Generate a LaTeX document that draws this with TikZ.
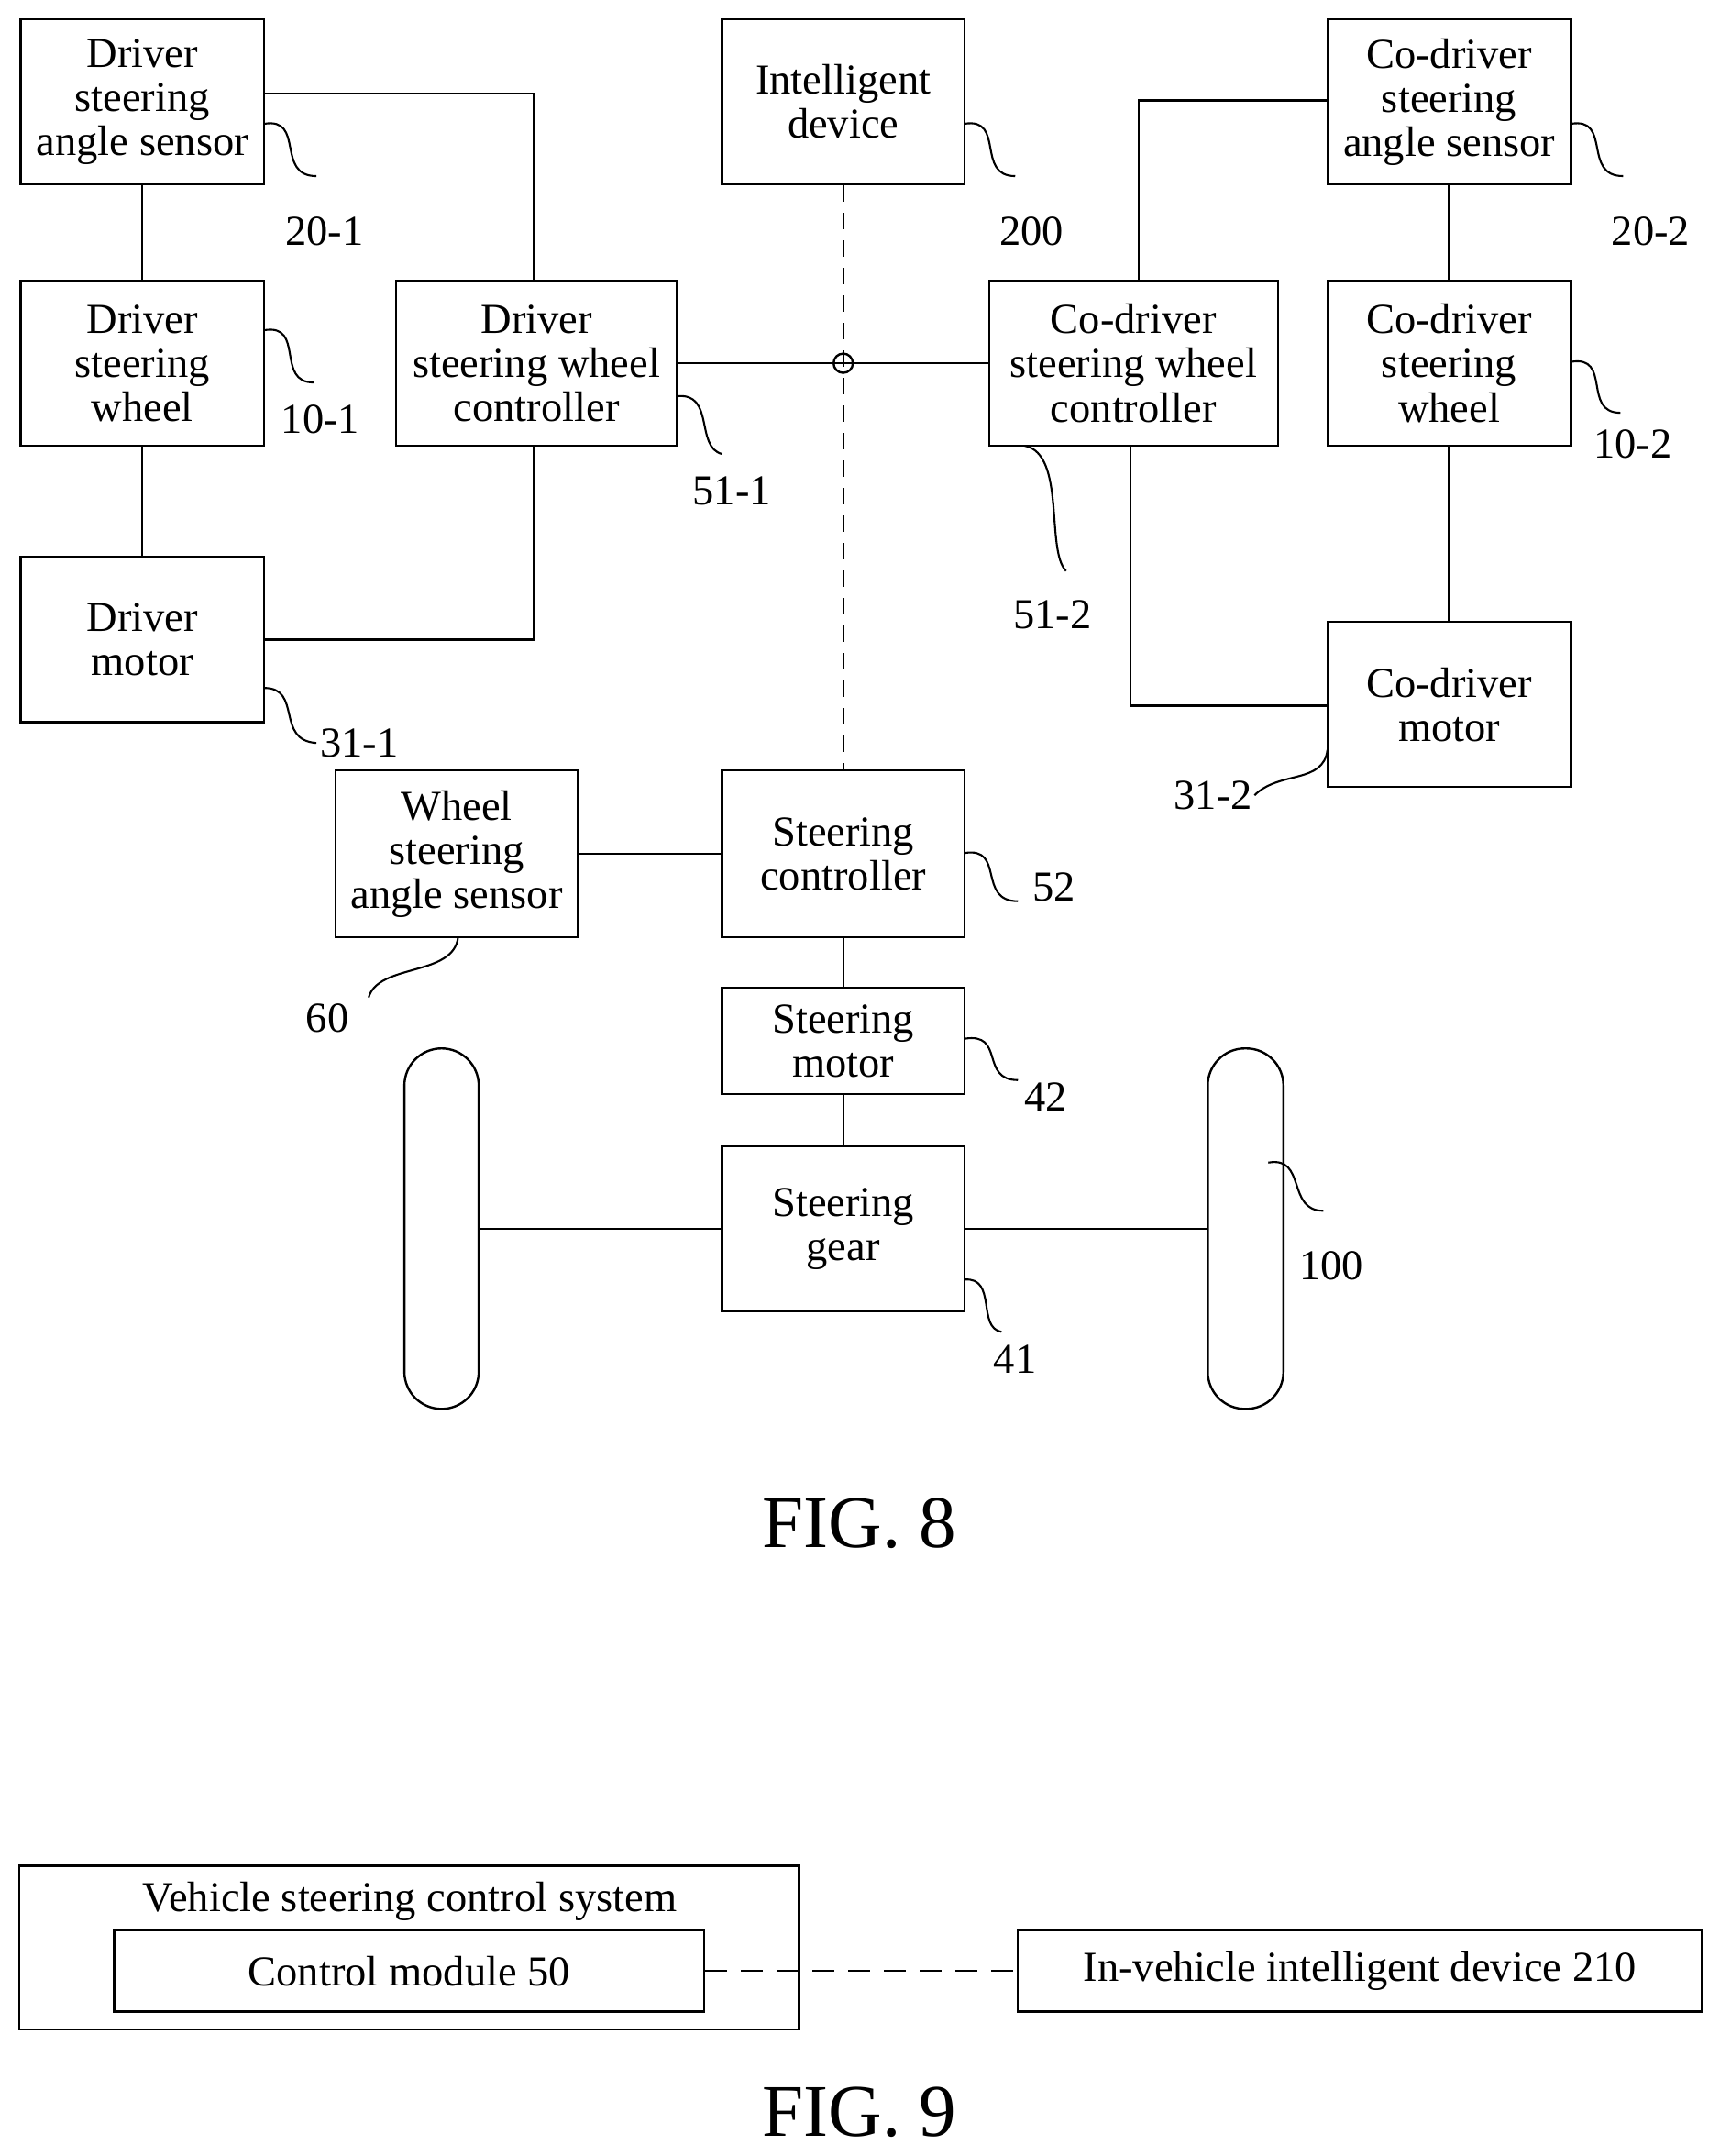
\documentclass[tikz,border=0pt]{standalone}
\usepackage{fontspec}
\setmainfont{Liberation Serif}
\begin{document}
\begin{tikzpicture}[x=0.5pt,y=-0.5pt,line width=0.8pt,
 box/.style={draw,align=center,inner sep=0pt,font=\fontsize{15.5}{16}\selectfont},
 lab/.style={font=\fontsize{15.5}{16}\selectfont,inner sep=1pt},
 lead/.style={line width=0.7pt}]
\useasboundingbox (0,0) rectangle (1250,1567);
% FIG 8 boxes
\node[box,minimum width=88.5pt,minimum height=60pt] (dsas) at (103.5,74) {Driver\\steering\\angle sensor};
\node[box,minimum width=88.5pt,minimum height=60pt] (dsw) at (103.5,264) {Driver\\steering\\wheel};
\node[box,minimum width=88.5pt,minimum height=60pt] (dm) at (103.5,465) {Driver\\motor};
\node[box,minimum width=102pt,minimum height=60pt] (dswc) at (390,264) {Driver\\steering wheel\\controller};
\node[box,minimum width=88pt,minimum height=60pt] (id) at (613,74) {Intelligent\\device};
\node[box,minimum width=105pt,minimum height=60pt] (cdswc) at (824,264) {Co-driver\\steering wheel\\controller};
\node[box,minimum width=88.5pt,minimum height=60pt] (cdsas) at (1053.5,74) {Co-driver\\steering\\angle sensor};
\node[box,minimum width=88.5pt,minimum height=60pt] (cdsw) at (1053.5,264) {Co-driver\\steering\\wheel};
\node[box,minimum width=88.5pt,minimum height=60pt] (cdm) at (1053.5,512) {Co-driver\\motor};
\node[box,minimum width=88pt,minimum height=60.5pt] (wsas) at (332,620.5) {Wheel\\steering\\angle sensor};
\node[box,minimum width=88pt,minimum height=60.5pt] (sc) at (613,620.5) {Steering\\controller};
\node[box,minimum width=88pt,minimum height=38.5pt] (sm) at (613,756.5) {Steering\\motor};
\node[box,minimum width=88pt,minimum height=60pt] (sg) at (613,893) {Steering\\gear};
\node[draw,rounded corners=13.5pt,minimum width=27pt,minimum height=131pt,inner sep=0pt] (wl) at (321,893) {};
\node[draw,rounded corners=13.5pt,minimum width=27.5pt,minimum height=131pt,inner sep=0pt] (wr) at (905.5,893) {};
% connectors
\draw (dsas) -- (dsw); \draw (dsw) -- (dm);
\draw (dsas.east |- 0,68) -- (388,68) -- (dswc.north -| 388,0);
\draw (dm.east) -- (388,465) -- (dswc.south -| 388,0);
\coordinate (x) at (613,264);
\draw (dswc.east) -- (cdswc.west);
\draw (x) circle (3.5pt);
\draw[dash pattern=on 6pt off 4pt] (id.south) -- (sc.north);
\draw (cdsas.west |- 0,73) -- (828,73) -- (cdswc.north -| 828,0);
\draw (cdsas) -- (cdsw); \draw (cdsw) -- (cdm);
\draw (cdswc.south -| 822,0) -- (822,513) -- (cdm.west |- 0,513);
\draw (wsas) -- (sc); \draw (sc) -- (sm); \draw (sm) -- (sg);
\draw (sg.west) -- (wl.east); \draw (sg.east) -- (wr.west);
% leaders and labels
\draw[lead] (192,90) .. controls (222,85) and (200,128) .. (230,128); \node[lab] at (236,168) {20-1};
\draw[lead] (192,240) .. controls (222,235) and (200,278) .. (228,278); \node[lab] at (233,305) {10-1};
\draw[lead] (192,500) .. controls (220,500) and (200,538) .. (230,540); \node[lab,anchor=west] at (230,540) {31-1};
\draw[lead] (492,288) .. controls (520,285) and (505,325) .. (525,330); \node[lab] at (532,357) {51-1};
\draw[lead] (701,90) .. controls (731,85) and (709,128) .. (738,128); \node[lab] at (750,168) {200};
\draw[lead] (1142,90) .. controls (1172,85) and (1150,128) .. (1180,128); \node[lab] at (1200,168) {20-2};
\draw[lead] (1142,263) .. controls (1172,258) and (1150,300) .. (1178,300); \node[lab] at (1187,323) {10-2};
\draw[lead] (745,324) .. controls (775,330) and (760,400) .. (775,415); \node[lab] at (765,447) {51-2};
\draw[lead] (965,545) .. controls (962,570) and (930,560) .. (912,578); \node[lab] at (882,578) {31-2};
\draw[lead] (701,620) .. controls (731,615) and (710,655) .. (740,655); \node[lab] at (766,645) {52};
\draw[lead] (333,681) .. controls (330,710) and (275,700) .. (268,725); \node[lab] at (238,740) {60};
\draw[lead] (701,755) .. controls (731,750) and (712,785) .. (740,785); \node[lab] at (760,797) {42};
\draw[lead] (701,930) .. controls (725,928) and (710,965) .. (728,968); \node[lab] at (738,988) {41};
\draw[lead] (922,845) .. controls (950,840) and (935,880) .. (962,880); \node[lab] at (968,920) {100};
\node[font=\fontsize{27}{28}\selectfont] (f8) at (625,1107) {FIG. 8};
% FIG 9
\node[draw,minimum width=283.5pt,minimum height=59.5pt,inner sep=0pt] (outer) at (297.5,1415.5) {};
\node[lab] (ttl) at (298,1382) {Vehicle steering control system};
\node[box,minimum width=214.5pt,minimum height=29.5pt] (cm) at (297.5,1432.5) {Control module 50};
\node[box,minimum width=248.5pt,minimum height=29.5pt] (ivid) at (988.5,1432.5) {In-vehicle intelligent device 210};
\draw[dash pattern=on 8pt off 5pt] (cm.east) -- (ivid.west);
\node[font=\fontsize{27}{28}\selectfont] (f9) at (625,1535) {FIG. 9};
\end{tikzpicture}
\end{document}
